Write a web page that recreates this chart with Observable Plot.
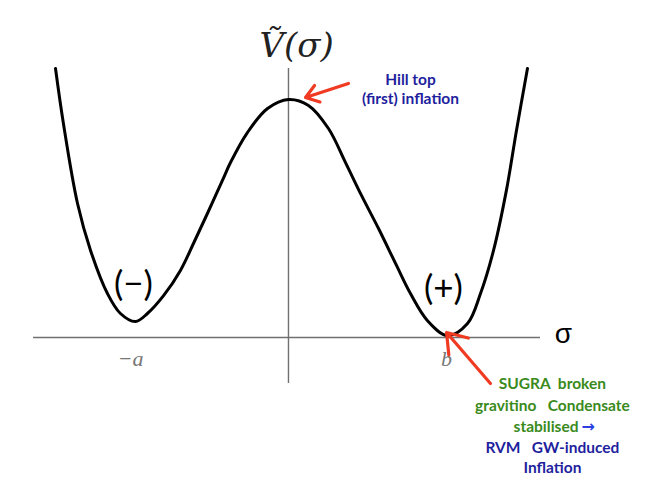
<!DOCTYPE html>
<html>
<head>
<meta charset="utf-8">
<script src="https://cdn.jsdelivr.net/npm/d3@7"></script>
<script src="https://cdn.jsdelivr.net/npm/@observablehq/plot@0.6"></script>
<style>
  html, body { margin: 0; padding: 0; background: #fff; }
  #chart svg { display: block; }
</style>
</head>
<body>
<div id="chart"></div>
<script>
// Potential curve: sigma (field) and V (potential, hill top = 1)
const sigma = [-1.503, -1.452, -1.361, -1.277, -1.168, -1.084, -0.987, -0.910, -0.806, -0.697, -0.613, -0.523, -0.426, -0.374, -0.265, -0.135, 0, 0.129, 0.258, 0.368, 0.471, 0.581, 0.697, 0.787, 0.897, 1.026, 1.155, 1.239, 1.323, 1.406, 1.471, 1.542];
const V     = [ 1.130,  0.899,  0.563,  0.366,  0.185,  0.101,  0.067,  0.101,  0.176,  0.282,  0.395,  0.521,  0.660,  0.735,  0.861,  0.962, 1.0, 0.975, 0.878, 0.735, 0.597, 0.458, 0.303, 0.185, 0.071, 0.008, 0.059, 0.185, 0.366, 0.618, 0.870, 1.130];

// Tick labels on the sigma axis
const tickLabels = ["−a", "b"];
const tickSigma  = [-1.019, 1.019];
const tickV      = [-0.088, -0.088];

// Vacuum labels
const vacuumLabels = ["(−)", "(+)"];
const vacuumSigma  = [-1.0, 1.0];
const vacuumV      = [0.223, 0.206];

// Hill-top annotation
const hillLines = ["Hill top", "(first) inflation"];
const hillSigma = [0.787, 0.787];
const hillV     = [1.080, 1.000];

// Minimum annotation
const greenLines = ["SUGRA  broken", "gravitino   Condensate"];
const greenV     = [-0.197, -0.286];
const blueLines  = ["RVM   GW-induced", "Inflation"];
const blueV      = [-0.462, -0.546];
const noteSigma  = 1.703;

// Arrows (tail -> head) in data units
const arrows = [
  {s1: 0.387, v1: 1.067, s2: 0.110, v2: 1.008},
  {s1: 1.303, v1: -0.193, s2: 1.020, v2: 0.021}
];

const curve = sigma.map((s, i) => ({s, v: V[i]}));
const ticks = tickLabels.map((t, i) => ({t, s: tickSigma[i], v: tickV[i]}));
const vac = vacuumLabels.map((t, i) => ({t, s: vacuumSigma[i], v: vacuumV[i]}));
const hill = hillLines.map((t, i) => ({t, s: hillSigma[i], v: hillV[i]}));
const green = greenLines.map((t, i) => ({t, s: noteSigma, v: greenV[i]}));
const blue = blueLines.map((t, i) => ({t, s: noteSigma, v: blueV[i]}));

const darkBlue = "#1f1f9e";
const green_c = "#3a8a1c";
const red = "#f03a22";
const calibri = "Lato, 'Open Sans', sans-serif";

const chart = Plot.plot({
  width: 664,
  height: 498,
  marginLeft: 33,
  marginRight: 124,
  marginTop: 68,
  marginBottom: 115,
  x: {domain: [-1.645, 1.626], axis: null},
  y: {domain: [-0.193, 1.130], axis: null},
  marks: [
    Plot.ruleY([0], {stroke: "#707070", strokeWidth: 1.4}),
    Plot.ruleX([0], {stroke: "#707070", strokeWidth: 1.4}),
    Plot.line(curve, {x: "s", y: "v", curve: "catmull-rom", stroke: "#000", strokeWidth: 3}),
    Plot.text(["Ṽ(σ)"], {x: 0.052, y: 1.223, text: d => d, fontSize: 34, fontStyle: "italic", fontFamily: "'DejaVu Serif', 'Liberation Serif', serif", fill: "#222"}),
    Plot.text(["σ"], {x: 1.774, y: 0.013, text: d => d, fontSize: 28, fontFamily: "'Liberation Sans', sans-serif", fill: "#000"}),
    Plot.text(ticks, {x: "s", y: "v", text: "t", fontSize: 22, fontStyle: "italic", fontFamily: "'Liberation Serif', serif", fill: "#777"}),
    Plot.text(vac, {x: "s", y: "v", text: "t", fontSize: 35, fontFamily: calibri, fill: "#000"}),
    Plot.text(hill, {x: "s", y: "v", text: "t", fontSize: 15.5, fontWeight: "bold", fontFamily: calibri, fill: darkBlue}),
    Plot.text(green, {x: "s", y: "v", text: "t", fontSize: 15.5, fontWeight: "bold", fontFamily: calibri, fill: green_c}),
    Plot.text(["stabilised"], {x: 1.871, y: -0.374, text: d => d, textAnchor: "end", fontSize: 15.5, fontWeight: "bold", fontFamily: calibri, fill: green_c}),
    Plot.text(["→"], {x: 1.890, y: -0.374, text: d => d, textAnchor: "start", fontSize: 16, fontWeight: "bold", fontFamily: "'DejaVu Sans', sans-serif", fill: "#2c3fe0"}),
    Plot.text(blue, {x: "s", y: "v", text: "t", fontSize: 15.5, fontWeight: "bold", fontFamily: calibri, fill: darkBlue}),
    Plot.arrow(arrows, {x1: "s1", y1: "v1", x2: "s2", y2: "v2", stroke: red, strokeWidth: 3.2, headLength: 14, headAngle: 70})
  ]
});
document.getElementById("chart").append(chart);
</script>
</body>
</html>
